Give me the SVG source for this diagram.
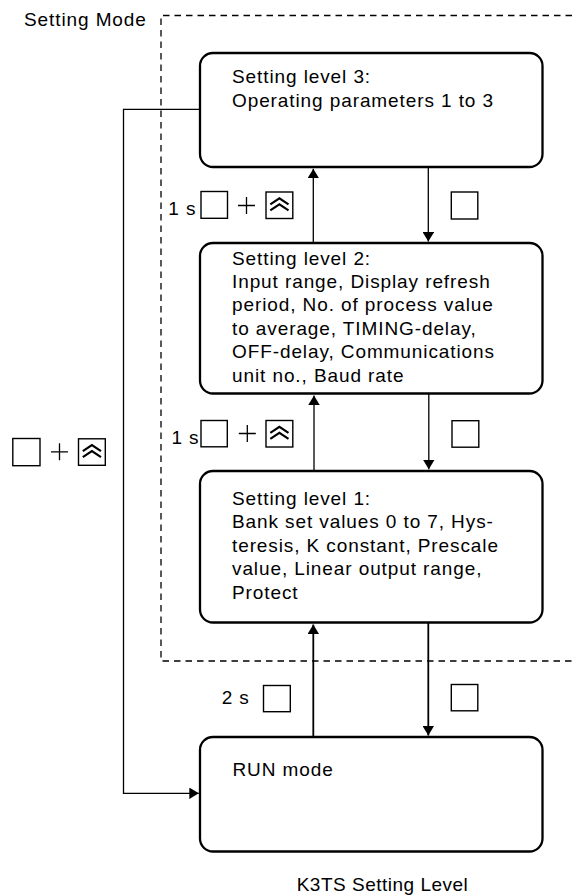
<svg xmlns="http://www.w3.org/2000/svg" width="572" height="895" viewBox="0 0 572 895">
<style>
text { font-family: "Liberation Sans", Arial, Helvetica, sans-serif; font-size: 19px; letter-spacing: 0.9px; fill: #000; }
.box { fill: #fff; stroke: #000; stroke-width: 2.3; }
.frame { fill: none; stroke: #000; stroke-width: 1.3; stroke-dasharray: 6.5 5; }
.conn { fill: none; stroke: #000; stroke-width: 1.3; }
.connb { fill: none; stroke: #000; stroke-width: 1.8; }
.key { fill: #fff; stroke: #000; stroke-width: 1.4; }
.plus { stroke: #000; stroke-width: 1.3; fill: none; }
.chev { fill: none; stroke: #000; stroke-width: 2.1; stroke-linejoin: miter; }
</style>
<defs>
<marker id="arrow" viewBox="0 0 10 10" markerUnits="userSpaceOnUse" markerWidth="9.5" markerHeight="11.5" refX="10" refY="5" orient="auto" preserveAspectRatio="none">
<path d="M0,0 L10,5 L0,10 z" fill="#000"/>
</marker>
<g id="upkey">
<rect class="key" x="0" y="0" width="26.8" height="26.5"/>
<path class="chev" d="M4.3,12.3 L13.4,6.3 L22.5,12.3"/>
<path class="chev" d="M4.3,18.3 L13.4,12.3 L22.5,18.3"/>
</g>
<g id="plus">
<path class="plus" d="M-8.5,0 H8.5 M0,-8.5 V8.5"/>
</g>
</defs>

<g id="setting-mode">
<path class="frame" d="M572,15.5 H161 V661 H572"/>
<text x="24" y="26">Setting Mode</text>
</g>

<g id="connectors">
<path class="conn" d="M200,109.3 H123.5 V793.3 H198.8" marker-end="url(#arrow)"/>
<line class="conn" x1="313.3" y1="243" x2="313.3" y2="168.8" marker-end="url(#arrow)"/>
<line class="conn" x1="428.3" y1="167" x2="428.3" y2="241.6" marker-end="url(#arrow)"/>
<line class="conn" x1="314" y1="471" x2="314" y2="395.5" marker-end="url(#arrow)"/>
<line class="conn" x1="428.8" y1="393.5" x2="428.8" y2="469.3" marker-end="url(#arrow)"/>
<line class="connb" x1="313.3" y1="737" x2="313.3" y2="624.5" marker-end="url(#arrow)"/>
<line class="connb" x1="428.3" y1="622.5" x2="428.3" y2="735.5" marker-end="url(#arrow)"/>
</g>

<g id="node-level3">
<rect class="box" x="200" y="53" width="342.5" height="114" rx="13" ry="13"/>
<text x="232" y="83.2">Setting level 3:</text>
<text x="232" y="106.5">Operating parameters 1 to 3</text>
</g>

<g id="node-level2">
<rect class="box" x="200" y="243" width="342.5" height="150.5" rx="13" ry="13"/>
<text x="232" y="264.6">Setting level 2:</text>
<text x="232" y="288">Input range, Display refresh</text>
<text x="232" y="311.4">period, No. of process value</text>
<text x="232" y="334.8">to average, TIMING-delay,</text>
<text x="232" y="358.2">OFF-delay, Communications</text>
<text x="232" y="381.6">unit no., Baud rate</text>
</g>

<g id="node-level1">
<rect class="box" x="200" y="471" width="342.5" height="151.5" rx="13" ry="13"/>
<text x="232" y="505">Setting level 1:</text>
<text x="232" y="528.4">Bank set values 0 to 7, Hys-</text>
<text x="232" y="551.8">teresis, K constant, Prescale</text>
<text x="232" y="575.2">value, Linear output range,</text>
<text x="232" y="598.6">Protect</text>
</g>

<g id="node-run">
<rect class="box" x="200" y="737" width="342.5" height="114.5" rx="13" ry="13"/>
<text x="232.5" y="775.7">RUN mode</text>
</g>

<g id="key-labels">
<text x="168.3" y="215">1 s</text>
<rect class="key" x="201" y="191.5" width="26.5" height="26.8"/>
<use href="#plus" x="246.5" y="205.5"/>
<use href="#upkey" x="266" y="192"/>
<rect class="key" x="451.3" y="192" width="26.5" height="27"/>

<text x="171.4" y="444">1 s</text>
<rect class="key" x="201" y="420.5" width="26.3" height="26.3"/>
<use href="#plus" x="247.3" y="433.5"/>
<use href="#upkey" x="266" y="420.5"/>
<rect class="key" x="452" y="420.7" width="26.8" height="26.5"/>

<text x="221.7" y="704.3">2 s</text>
<rect class="key" x="263.5" y="685.5" width="26.8" height="26.2"/>
<rect class="key" x="451.3" y="684.5" width="26.5" height="26.3"/>

<rect class="key" x="12.8" y="438.5" width="27.2" height="27.2"/>
<use href="#plus" x="59.5" y="451.8"/>
<use href="#upkey" x="78.5" y="438.8"/>
</g>

<text x="296.7" y="891" style="letter-spacing:0.5px">K3TS Setting Level</text>
</svg>
